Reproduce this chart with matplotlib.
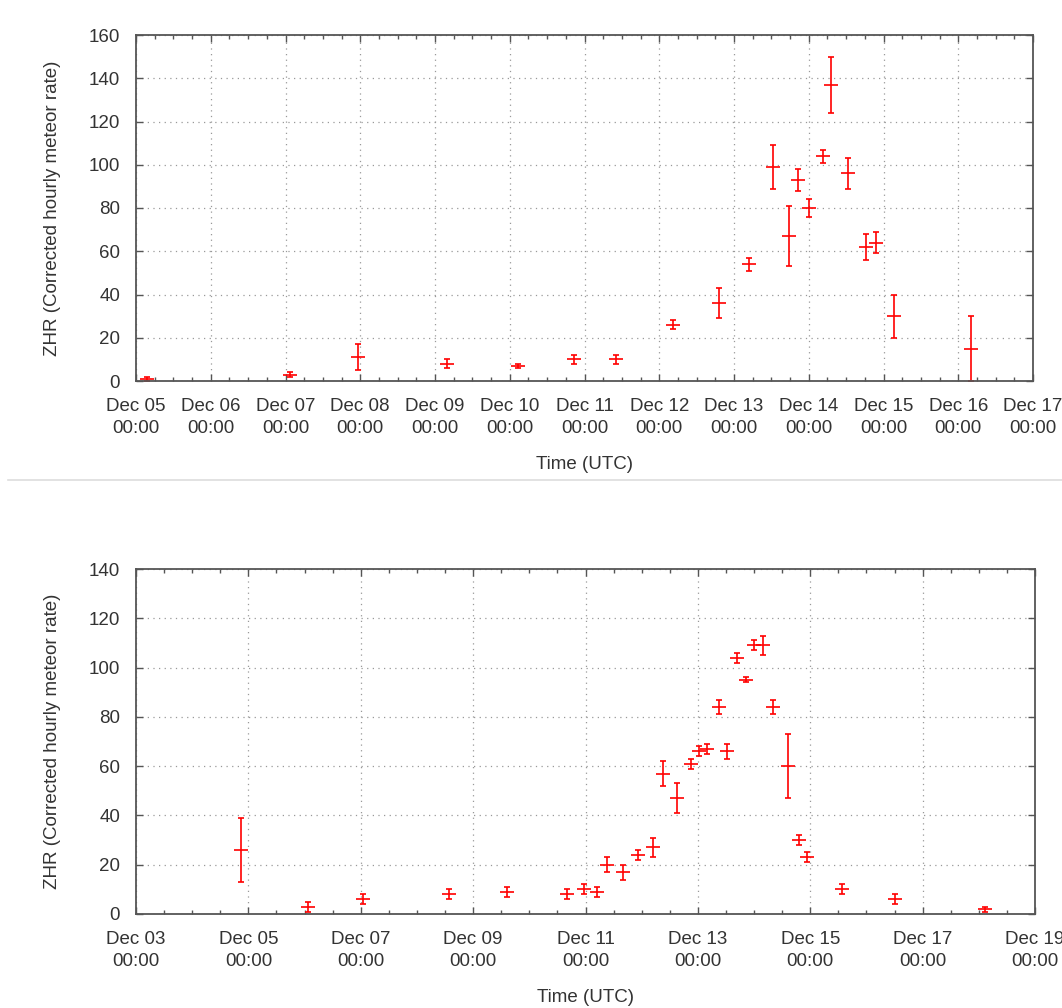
import matplotlib
matplotlib.use("Agg")
import matplotlib.pyplot as plt
import matplotlib.dates as mdates
import pandas as pd
from matplotlib.lines import Line2D

plt.rcParams['font.family'] = ['Liberation Sans', 'DejaVu Sans']

# ---- Top panel data ----
top_times = ["2012-12-05 03:30", "2012-12-07 01:30", "2012-12-07 23:15", "2012-12-09 04:00",
             "2012-12-10 02:30", "2012-12-10 20:30", "2012-12-11 10:15", "2012-12-12 04:30",
             "2012-12-12 19:15", "2012-12-13 04:45", "2012-12-13 12:30", "2012-12-13 17:45",
             "2012-12-13 20:30", "2012-12-14 00:00", "2012-12-14 04:30", "2012-12-14 07:00",
             "2012-12-14 12:30", "2012-12-14 18:30", "2012-12-14 21:30", "2012-12-15 03:15",
             "2012-12-16 04:00"]
top_zhr = [1, 3, 11, 8, 7, 10, 10, 26, 36, 54, 99, 67, 93, 80, 104, 137, 96, 62, 64, 30, 15]
top_err = [1, 1, 6, 2, 1, 2, 2, 2, 7, 3, 10, 14, 5, 4, 3, 13, 7, 6, 5, 10, 15]

# ---- Bottom panel data ----
bot_times = ["2012-12-04 20:45", "2012-12-06 01:30", "2012-12-07 01:00", "2012-12-08 13:45",
             "2012-12-09 14:30", "2012-12-10 16:00", "2012-12-10 23:30", "2012-12-11 05:00",
             "2012-12-11 09:00", "2012-12-11 16:00", "2012-12-11 22:30", "2012-12-12 04:45",
             "2012-12-12 09:00", "2012-12-12 15:15", "2012-12-12 21:00", "2012-12-13 00:30",
             "2012-12-13 04:00", "2012-12-13 09:00", "2012-12-13 12:30", "2012-12-13 16:45",
             "2012-12-13 20:30", "2012-12-14 00:00", "2012-12-14 04:00", "2012-12-14 08:00",
             "2012-12-14 14:30", "2012-12-14 19:15", "2012-12-14 22:30", "2012-12-15 13:30",
             "2012-12-16 12:15", "2012-12-18 02:30"]
bot_zhr = [26, 3, 6, 8, 9, 8, 10, 9, 20, 17, 24, 27, 57, 47, 61, 66, 67, 84, 66, 104,
           95, 109, 109, 84, 60, 30, 23, 10, 6, 2]
bot_err = [13, 2, 2, 2, 2, 2, 2, 2, 3, 3, 2, 4, 5, 6, 2, 2, 2, 3, 3, 2,
           1, 2, 4, 3, 13, 2, 2, 2, 2, 1]

x_label = "Time (UTC)"
y_label = "ZHR (Corrected hourly meteor rate)"

W, H = 1062, 1008
fig = plt.figure(figsize=(W / 100, H / 100), dpi=100)

ax1 = fig.add_axes([136 / W, 1 - 381 / H, (1033 - 136) / W, (381 - 35) / H])
ax2 = fig.add_axes([136 / W, 1 - 914 / H, (1035 - 136) / W, (914 - 569) / H])

red = '#ff0000'
frame = '#555555'
txt = '#333333'
FS = 13.5


def style(ax, xmin, xmax, step, ymax, minor_hours):
    ax.set_xlim(pd.Timestamp(xmin), pd.Timestamp(xmax))
    ax.set_ylim(0, ymax)
    ax.xaxis.set_major_locator(mdates.DayLocator(interval=step))
    ax.xaxis.set_minor_locator(mdates.HourLocator(byhour=minor_hours))
    ax.xaxis.set_major_formatter(mdates.DateFormatter("%b %d\n%H:%M"))
    ax.set_yticks(range(0, ymax + 1, 20))
    ax.grid(True, which='major', linestyle=(0, (1, 3.5)), color='#999999', linewidth=0.9)
    ax.tick_params(which='both', direction='in', top=True, right=True, colors=frame,
                   labelcolor=txt, labelsize=FS)
    ax.tick_params(which='major', length=5, width=1)
    ax.tick_params(which='minor', length=3, width=1)
    ax.tick_params(axis='x', pad=12)
    ax.tick_params(axis='y', pad=11.5)
    for s in ax.spines.values():
        s.set_color(frame)
        s.set_linewidth(1.3)
    for lbl in ax.get_xticklabels():
        lbl.set_horizontalalignment('center')
        lbl.set_linespacing(1.4)
    ax.set_xlabel(x_label, fontsize=FS, color=txt, labelpad=14)
    ax.set_ylabel(y_label, fontsize=FS, color=txt, labelpad=20)
    ax.set_axisbelow(True)


ax1.errorbar(pd.to_datetime(top_times), top_zhr, yerr=top_err, fmt='_', color=red,
             ecolor=red, elinewidth=1.2, capsize=2, capthick=2, markersize=10,
             markeredgewidth=1.2, clip_on=True)
style(ax1, "2012-12-05", "2012-12-17", 1, 160, [0, 6, 12, 18])

ax2.errorbar(pd.to_datetime(bot_times), bot_zhr, yerr=bot_err, fmt='_', color=red,
             ecolor=red, elinewidth=1.2, capsize=2, capthick=2, markersize=10,
             markeredgewidth=1.2, clip_on=True)
style(ax2, "2012-12-03", "2012-12-19", 2, 140, [0, 12])

fig.add_artist(Line2D([8 / W, 1.0], [1 - 480 / H, 1 - 480 / H], color='#dddddd', linewidth=1.2))

fig.savefig("out.png", dpi=100)
